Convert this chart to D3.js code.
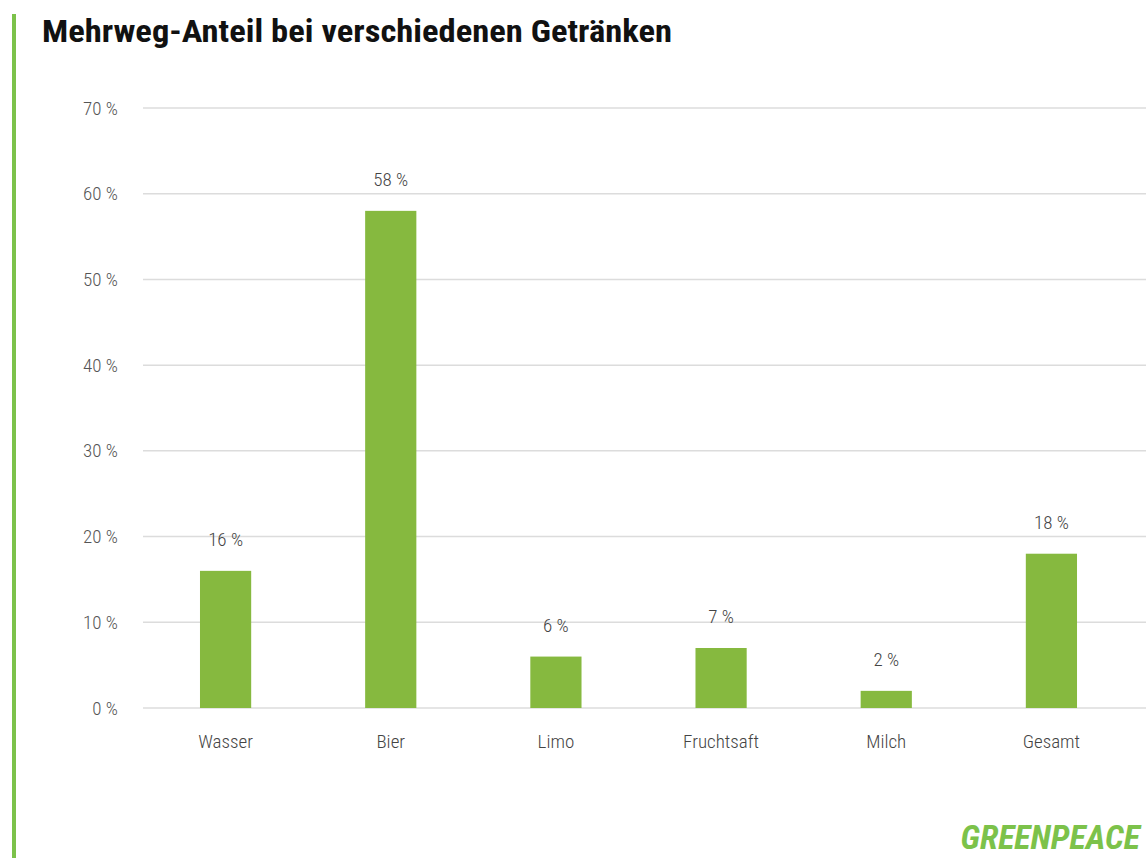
<!DOCTYPE html>
<html>
<head>
<meta charset="utf-8">
<script src="https://cdn.jsdelivr.net/npm/d3@7"></script>
<style>
  body { margin: 0; background: #fff; }
  svg { display: block; }
</style>
</head>
<body>
<div class="chart"></div>
<script>
const categories = ["Wasser", "Bier", "Limo", "Fruchtsaft", "Milch", "Gesamt"];
const shares = [16, 58, 6, 7, 2, 18];
const tickValues = [0, 10, 20, 30, 40, 50, 60, 70];

const data = categories.map((c, i) => ({ drink: c, share: shares[i] }));

const W = 1146, H = 858;

const svg = d3.select('.chart')
  .append('svg')
  .attr('width', W)
  .attr('height', H);

// green stripe on the left
svg.append('rect')
  .attr('x', 12).attr('y', 14)
  .attr('width', 4).attr('height', H - 14)
  .attr('fill', '#7cc24a');

svg.append('text')
  .attr('x', 42).attr('y', 42)
  .attr('font-family', '"Liberation Sans Narrow", "Roboto Condensed", "DejaVu Sans Condensed", sans-serif')
  .attr('font-weight', 'bold')
  .attr('font-size', 31)
  .attr('textLength', 630)
  .attr('lengthAdjust', 'spacingAndGlyphs')
  .attr('fill', '#111')
  .text('Mehrweg-Anteil bei verschiedenen Getränken');

const yScale = d3.scaleLinear()
  .domain([0, 70])
  .range([708, 108]);

const xScale = d3.scaleBand()
  .domain(categories)
  .range([143, 1134])
  .paddingInner(0.69)
  .paddingOuter(0.345);

// gridlines
svg.append('g')
  .selectAll('line')
  .data(tickValues)
  .enter()
  .append('line')
  .attr('x1', 143).attr('x2', W)
  .attr('y1', d => yScale(d)).attr('y2', d => yScale(d))
  .attr('stroke', '#dcdcdc')
  .attr('stroke-width', 1.5);

const labelFont = '"Roboto Condensed", "Liberation Sans Narrow", sans-serif';

const yAxis = d3.axisLeft(yScale)
  .tickValues(tickValues)
  .tickSize(0)
  .tickPadding(0)
  .tickFormat(d => d + ' %');

svg.append('g')
  .attr('transform', 'translate(118, 0)')
  .call(yAxis)
  .call(g => g.select('.domain').remove())
  .selectAll('text')
  .attr('font-family', labelFont)
  .attr('font-weight', 300)
  .attr('font-size', 19)
  .attr('fill', '#555');

const xAxis = d3.axisBottom(xScale).tickSize(0).tickPadding(0);

svg.append('g')
  .attr('transform', 'translate(0, 734)')
  .call(xAxis)
  .call(g => g.select('.domain').remove())
  .selectAll('text')
  .attr('font-family', labelFont)
  .attr('font-weight', 300)
  .attr('font-size', 19)
  .attr('fill', '#444');

svg.selectAll('rect.bar')
  .data(data)
  .enter()
  .append('rect')
  .attr('class', 'bar')
  .attr('x', d => xScale(d.drink))
  .attr('y', d => yScale(d.share))
  .attr('width', xScale.bandwidth())
  .attr('height', d => yScale(0) - yScale(d.share))
  .attr('fill', '#86b93f');

svg.selectAll('text.value')
  .data(data)
  .enter()
  .append('text')
  .attr('class', 'value')
  .attr('x', d => xScale(d.drink) + xScale.bandwidth() / 2)
  .attr('y', d => yScale(d.share) - 25)
  .attr('text-anchor', 'middle')
  .attr('font-family', labelFont)
  .attr('font-weight', 300)
  .attr('font-size', 19)
  .attr('fill', '#444')
  .text(d => d.share + ' %');

// logo (sized by font, no stretching, so it stays inside the page)
svg.append('text')
  .attr('x', 1140).attr('y', 849)
  .attr('text-anchor', 'end')
  .attr('font-family', '"Roboto Condensed", "Liberation Sans Narrow", sans-serif')
  .attr('font-weight', 'bold')
  .attr('font-style', 'italic')
  .attr('font-size', 34)
  .attr('fill', '#7cc24a')
  .text('GREENPEACE');
</script>
</body>
</html>
